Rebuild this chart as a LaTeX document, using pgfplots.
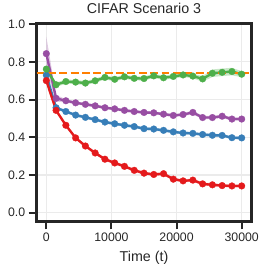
\documentclass[border=0pt]{standalone}
\usepackage{pgfplots}
\pgfplotsset{compat=1.18}
\usepackage{pgfplotstable}
\usepgfplotslibrary{fillbetween}
\usepackage{fontspec}
\setmainfont{Liberation Sans}
\definecolor{cred}{HTML}{E41A1C}
\definecolor{cblue}{HTML}{377EB8}
\definecolor{cgreen}{HTML}{4DAF4A}
\definecolor{cpurple}{HTML}{984EA3}
\definecolor{corange}{HTML}{FF7F00}
\definecolor{dark}{HTML}{262626}
\definecolor{gridc}{HTML}{EBEBEB}

\pgfplotstableread{
x y lo hi
0 0.701 0.693 0.709
1500 0.543 0.535 0.551
3000 0.464 0.456 0.472
4500 0.397 0.389 0.405
6000 0.354 0.346 0.362
7500 0.317 0.309 0.325
9000 0.284 0.276 0.292
10500 0.264 0.256 0.272
12000 0.246 0.238 0.254
13500 0.225 0.217 0.233
15000 0.210 0.202 0.218
16500 0.203 0.195 0.211
18000 0.207 0.199 0.215
19500 0.178 0.170 0.186
21000 0.169 0.161 0.177
22500 0.173 0.165 0.181
24000 0.153 0.145 0.161
25500 0.148 0.140 0.156
27000 0.144 0.136 0.152
28500 0.142 0.134 0.150
30000 0.142 0.134 0.150
}\redtab

\pgfplotstableread{
x y lo hi
0 0.730 0.722 0.738
1500 0.557 0.549 0.565
3000 0.537 0.529 0.545
4500 0.518 0.510 0.526
6000 0.506 0.498 0.514
7500 0.494 0.486 0.502
9000 0.481 0.473 0.489
10500 0.472 0.464 0.480
12000 0.464 0.456 0.472
13500 0.457 0.449 0.465
15000 0.446 0.438 0.454
16500 0.444 0.436 0.452
18000 0.437 0.429 0.445
19500 0.429 0.421 0.437
21000 0.423 0.415 0.431
22500 0.421 0.413 0.429
24000 0.415 0.407 0.423
25500 0.411 0.403 0.419
27000 0.410 0.402 0.418
28500 0.398 0.390 0.406
30000 0.397 0.389 0.405
}\bluetab

\pgfplotstableread{
x y lo hi
0 0.844 0.754 0.934
1500 0.607 0.590 0.624
3000 0.594 0.585 0.603
4500 0.583 0.575 0.591
6000 0.575 0.567 0.583
7500 0.567 0.559 0.575
9000 0.557 0.549 0.565
10500 0.551 0.543 0.559
12000 0.543 0.535 0.551
13500 0.537 0.529 0.545
15000 0.532 0.524 0.540
16500 0.530 0.522 0.538
18000 0.523 0.515 0.531
19500 0.516 0.508 0.524
21000 0.521 0.513 0.529
22500 0.532 0.522 0.542
24000 0.505 0.496 0.514
25500 0.505 0.496 0.514
27000 0.512 0.503 0.521
28500 0.497 0.488 0.506
30000 0.497 0.488 0.506
}\purpletab

\pgfplotstableread{
x y lo hi
0 0.762 0.750 0.774
1500 0.679 0.667 0.691
3000 0.696 0.685 0.707
4500 0.693 0.682 0.704
6000 0.688 0.677 0.699
7500 0.700 0.689 0.711
9000 0.718 0.707 0.729
10500 0.708 0.697 0.719
12000 0.721 0.710 0.732
13500 0.713 0.702 0.724
15000 0.712 0.701 0.723
16500 0.726 0.715 0.737
18000 0.716 0.705 0.727
19500 0.723 0.712 0.734
21000 0.731 0.720 0.742
22500 0.725 0.713 0.737
24000 0.710 0.695 0.725
25500 0.740 0.720 0.760
27000 0.745 0.725 0.765
28500 0.749 0.729 0.769
30000 0.735 0.719 0.751
}\greentab

\begin{document}
\begin{tikzpicture}
\path (0,0) rectangle (270bp,270bp);
\begin{axis}[
  at={(37bp,49bp)}, anchor=south west,
  scale only axis, width=217.5bp, height=200.5bp,
  xmin=-1500, xmax=31500, ymin=-0.047, ymax=1.004,
  xtick={0,10000,20000,30000},
  ytick={0,0.2,0.4,0.6,0.8,1.0},
  scaled ticks=false,
  /pgf/number format/assume math mode=true,
  xticklabel style={/pgf/number format/1000 sep={}},
  yticklabel style={/pgf/number format/fixed, /pgf/number format/fixed zerofill, /pgf/number format/precision=1},
  ticklabel style={font=\fontsize{12.5}{14}\selectfont, text=dark},
  tick align=outside, major tick length=8bp,
  tick style={draw=dark, line width=2bp},
  xtick pos=bottom, ytick pos=left,
  axis line style={draw=dark, line width=2.3bp},
  grid=major, major grid style={draw=gridc, line width=1.1bp},
  title={CIFAR Scenario 3},
  title style={font=\fontsize{14.5}{16}\selectfont, text=dark, at={(0.5,1)}, anchor=base, yshift=4bp},
  xlabel={Time (t)},
  xlabel style={font=\fontsize{14.5}{16}\selectfont, text=dark, at={(0.5,0)}, anchor=base, yshift=-40bp},
  clip=true,
]
% bands
\addplot[draw=none, forget plot, name path=ph] table[x=x,y=hi]{\purpletab};
\addplot[draw=none, forget plot, name path=pl] table[x=x,y=lo]{\purpletab};
\addplot[cpurple, fill opacity=0.3, draw=none, forget plot] fill between[of=ph and pl];
\addplot[draw=none, forget plot, name path=gh] table[x=x,y=hi]{\greentab};
\addplot[draw=none, forget plot, name path=gl] table[x=x,y=lo]{\greentab};
\addplot[cgreen, fill opacity=0.3, draw=none, forget plot] fill between[of=gh and gl];
\addplot[draw=none, forget plot, name path=bh] table[x=x,y=hi]{\bluetab};
\addplot[draw=none, forget plot, name path=bl] table[x=x,y=lo]{\bluetab};
\addplot[cblue, fill opacity=0.3, draw=none, forget plot] fill between[of=bh and bl];
\addplot[draw=none, forget plot, name path=rh] table[x=x,y=hi]{\redtab};
\addplot[draw=none, forget plot, name path=rl] table[x=x,y=lo]{\redtab};
\addplot[cred, fill opacity=0.3, draw=none, forget plot] fill between[of=rh and rl];
% lines
\addplot[cblue, line width=2.4bp, mark=*, mark size=3.4bp, mark options={draw=cblue, fill=cblue, line width=0.3bp}] table[x=x,y=y]{\bluetab};
\addplot[cpurple, line width=2.4bp, mark=*, mark size=3.4bp, mark options={draw=cpurple, fill=cpurple, line width=0.3bp}] table[x=x,y=y]{\purpletab};
\addplot[cgreen, line width=2.4bp, mark=*, mark size=3.4bp, mark options={draw=cgreen, fill=cgreen, line width=0.3bp}] table[x=x,y=y]{\greentab};
\addplot[cred, line width=2.4bp, mark=*, mark size=3.4bp, mark options={draw=cred, fill=cred, line width=0.3bp}] table[x=x,y=y]{\redtab};
\addplot[corange, line width=2.4bp, dash pattern=on 8bp off 3.5bp, no marks] coordinates {(-1500,0.742) (31500,0.742)};
\end{axis}
\end{tikzpicture}
\end{document}
